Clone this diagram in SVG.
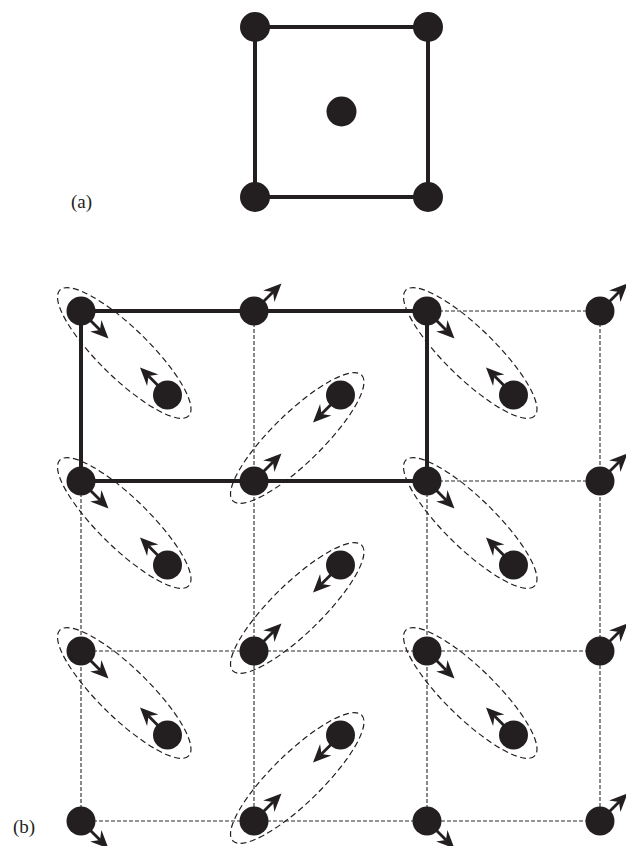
<svg xmlns="http://www.w3.org/2000/svg" width="626" height="846" viewBox="0 0 626 846">
<style>
.dot{fill:#231f20}
.bold{fill:none;stroke:#231f20;stroke-width:4}
.grid{fill:none;stroke:#2a2a2a;stroke-width:1.1;stroke-dasharray:4 2}
.ell{fill:none;stroke:#231f20;stroke-width:1.2;stroke-dasharray:6 3.5}
.arr{stroke:#231f20;stroke-width:2.8;marker-end:url(#ah)}
.lbl{font-family:"Liberation Serif","Times New Roman",serif;font-size:19px;fill:#231f20}
</style>
<defs>
<marker id="ah" markerUnits="userSpaceOnUse" markerWidth="20" markerHeight="20" viewBox="0 -10 20 20" refX="6" refY="0" orient="auto" overflow="visible">
<path d="M0,-8 L18,0 L0,8 L6,0 Z" fill="#231f20"/>
</marker>
</defs>
<rect width="626" height="846" fill="#fff"/>

<!-- (a) -->
<g id="cellA">
<rect class="bold" x="255" y="27" width="173" height="170"/>
<circle class="dot" cx="255" cy="27" r="15"/>
<circle class="dot" cx="428" cy="27" r="15"/>
<circle class="dot" cx="255" cy="197" r="15"/>
<circle class="dot" cx="428" cy="197" r="15"/>
<circle class="dot" cx="341.5" cy="111.5" r="15"/>
</g>
<text class="lbl" x="71" y="208">(a)</text>

<!-- (b) connectors -->
<g id="connectors">
<g id="grid">
<line class="grid" x1="427" y1="311" x2="600" y2="311"/>
<line class="grid" x1="427" y1="481" x2="600" y2="481"/>
<line class="grid" x1="81" y1="651" x2="600" y2="651"/>
<line class="grid" x1="81" y1="821" x2="600" y2="821"/>
<line class="grid" x1="81" y1="481" x2="81" y2="821"/>
<line class="grid" x1="254" y1="311" x2="254" y2="821"/>
<line class="grid" x1="427" y1="481" x2="427" y2="821"/>
<line class="grid" x1="600" y1="311" x2="600" y2="821"/>
</g>
<rect class="bold" x="81" y="311" width="346" height="170"/>
<g id="ellipses">
<ellipse class="ell" cx="124.25" cy="353" rx="90" ry="25" transform="rotate(44.3 124.25 353)"/>
<ellipse class="ell" cx="124.25" cy="523" rx="90" ry="25" transform="rotate(44.3 124.25 523)"/>
<ellipse class="ell" cx="124.25" cy="693" rx="90" ry="25" transform="rotate(44.3 124.25 693)"/>
<ellipse class="ell" cx="470.25" cy="353" rx="90" ry="25" transform="rotate(44.3 470.25 353)"/>
<ellipse class="ell" cx="470.25" cy="523" rx="90" ry="25" transform="rotate(44.3 470.25 523)"/>
<ellipse class="ell" cx="470.25" cy="693" rx="90" ry="25" transform="rotate(44.3 470.25 693)"/>
<ellipse class="ell" cx="297.25" cy="438" rx="90" ry="25" transform="rotate(-44.3 297.25 438)"/>
<ellipse class="ell" cx="297.25" cy="608" rx="90" ry="25" transform="rotate(-44.3 297.25 608)"/>
<ellipse class="ell" cx="297.25" cy="778" rx="90" ry="25" transform="rotate(-44.3 297.25 778)"/>
</g>
<g id="arrows">
<!-- column 0 corners: SE -->
<line class="arr" x1="81" y1="311" x2="100" y2="330"/>
<line class="arr" x1="81" y1="481" x2="100" y2="500"/>
<line class="arr" x1="81" y1="651" x2="100" y2="670"/>
<line class="arr" x1="81" y1="821" x2="100" y2="840"/>
<!-- column 1 corners: NE -->
<line class="arr" x1="254" y1="311" x2="273" y2="292"/>
<line class="arr" x1="254" y1="481" x2="273" y2="462"/>
<line class="arr" x1="254" y1="651" x2="273" y2="632"/>
<line class="arr" x1="254" y1="821" x2="273" y2="802"/>
<!-- column 2 corners: SE -->
<line class="arr" x1="427" y1="311" x2="446" y2="330"/>
<line class="arr" x1="427" y1="481" x2="446" y2="500"/>
<line class="arr" x1="427" y1="651" x2="446" y2="670"/>
<line class="arr" x1="427" y1="821" x2="446" y2="840"/>
<!-- column 3 corners: NE -->
<line class="arr" x1="600" y1="311" x2="619" y2="292"/>
<line class="arr" x1="600" y1="481" x2="619" y2="462"/>
<line class="arr" x1="600" y1="651" x2="619" y2="632"/>
<line class="arr" x1="600" y1="821" x2="619" y2="802"/>
<!-- centres column 0: NW -->
<line class="arr" x1="167.5" y1="395" x2="148.5" y2="376"/>
<line class="arr" x1="167.5" y1="565" x2="148.5" y2="546"/>
<line class="arr" x1="167.5" y1="735" x2="148.5" y2="716"/>
<!-- centres column 1: SW -->
<line class="arr" x1="340.5" y1="395" x2="321.5" y2="414"/>
<line class="arr" x1="340.5" y1="565" x2="321.5" y2="584"/>
<line class="arr" x1="340.5" y1="735" x2="321.5" y2="754"/>
<!-- centres column 2: NW -->
<line class="arr" x1="513.5" y1="395" x2="494.5" y2="376"/>
<line class="arr" x1="513.5" y1="565" x2="494.5" y2="546"/>
<line class="arr" x1="513.5" y1="735" x2="494.5" y2="716"/>
</g>
</g>

<!-- (b) nodes -->
<g id="corners">
<circle id="c00" class="dot" cx="81" cy="311" r="14.5"/>
<circle id="c10" class="dot" cx="254" cy="311" r="14.5"/>
<circle id="c20" class="dot" cx="427" cy="311" r="14.5"/>
<circle id="c30" class="dot" cx="600" cy="311" r="14.5"/>
<circle id="c01" class="dot" cx="81" cy="481" r="14.5"/>
<circle id="c11" class="dot" cx="254" cy="481" r="14.5"/>
<circle id="c21" class="dot" cx="427" cy="481" r="14.5"/>
<circle id="c31" class="dot" cx="600" cy="481" r="14.5"/>
<circle id="c02" class="dot" cx="81" cy="651" r="14.5"/>
<circle id="c12" class="dot" cx="254" cy="651" r="14.5"/>
<circle id="c22" class="dot" cx="427" cy="651" r="14.5"/>
<circle id="c32" class="dot" cx="600" cy="651" r="14.5"/>
<circle id="c03" class="dot" cx="81" cy="821" r="14.5"/>
<circle id="c13" class="dot" cx="254" cy="821" r="14.5"/>
<circle id="c23" class="dot" cx="427" cy="821" r="14.5"/>
<circle id="c33" class="dot" cx="600" cy="821" r="14.5"/>
</g>
<g id="centres">
<circle id="m00" class="dot" cx="167.5" cy="395" r="14.5"/>
<circle id="m10" class="dot" cx="340.5" cy="395" r="14.5"/>
<circle id="m20" class="dot" cx="513.5" cy="395" r="14.5"/>
<circle id="m01" class="dot" cx="167.5" cy="565" r="14.5"/>
<circle id="m11" class="dot" cx="340.5" cy="565" r="14.5"/>
<circle id="m21" class="dot" cx="513.5" cy="565" r="14.5"/>
<circle id="m02" class="dot" cx="167.5" cy="735" r="14.5"/>
<circle id="m12" class="dot" cx="340.5" cy="735" r="14.5"/>
<circle id="m22" class="dot" cx="513.5" cy="735" r="14.5"/>
</g>
<text class="lbl" x="13" y="833">(b)</text>
</svg>
